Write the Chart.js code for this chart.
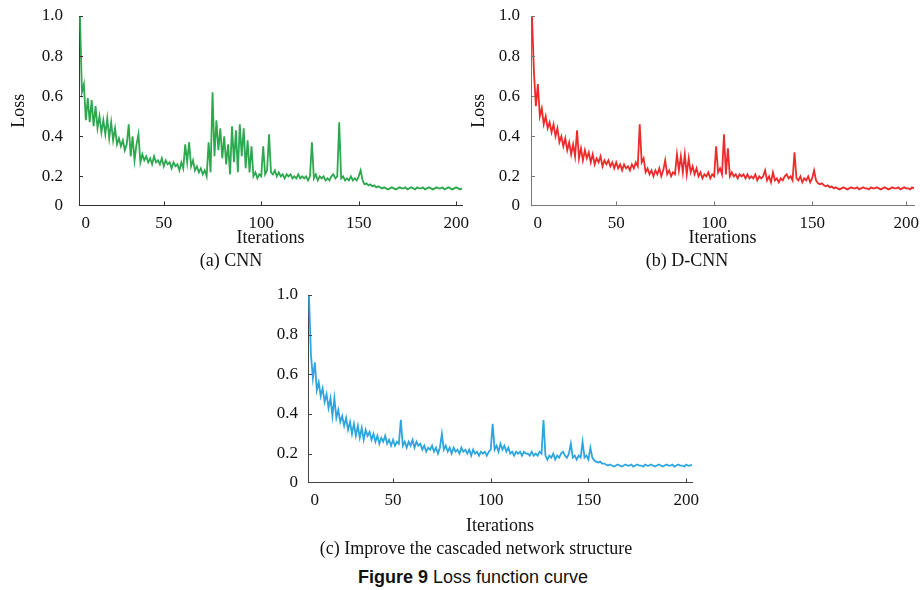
<!DOCTYPE html>
<html>
<head>
<meta charset="utf-8">
<script src="https://cdn.jsdelivr.net/npm/chart.js@4.4.1/dist/chart.umd.min.js"></script>
<style>
  html, body { margin: 0; padding: 0; background: #fff; overflow: hidden; }
  body { width: 920px; height: 590px; position: relative; }
  canvas { position: absolute; }
  #fig-caption {
    position: absolute; left: 473px; top: 567px; transform: translateX(-50%);
    white-space: nowrap; color: #111;
    font: 18px 'Liberation Sans Narrow', 'Arial Narrow', 'Liberation Sans', sans-serif;
  }
</style>
</head>
<body>
<canvas id="chartA" width="475" height="272" style="left:0;top:0"></canvas>
<canvas id="chartB" width="460" height="272" style="left:460px;top:0"></canvas>
<canvas id="chartC" width="460" height="281" style="left:260px;top:279px"></canvas>
<div id="fig-caption"><b>Figure 9</b> Loss function curve</div>

<script>
// one loss value per iteration, first value recorded at ITER_START
const ITER_START = 7;

const X_TICKS = [0, 50, 100, 150, 200];
const Y_TICKS = [0, 0.2, 0.4, 0.6, 0.8, 1.0];

// (a) CNN
const cnnLoss = [
  1.00, 0.62, 0.66, 0.48, 0.59, 0.47, 0.58, 0.45, 0.55, 0.44,
  0.50, 0.42, 0.48, 0.41, 0.49, 0.39, 0.47, 0.38, 0.44, 0.36,
  0.39, 0.35, 0.38, 0.33, 0.36, 0.46, 0.30, 0.40, 0.28, 0.36,
  0.41, 0.27, 0.31, 0.28, 0.30, 0.27, 0.29, 0.26, 0.30, 0.27,
  0.28, 0.26, 0.29, 0.25, 0.28, 0.26, 0.27, 0.24, 0.27, 0.25,
  0.26, 0.23, 0.27, 0.24, 0.36, 0.27, 0.37, 0.25, 0.28, 0.23,
  0.25, 0.22, 0.24, 0.21, 0.23, 0.20, 0.37, 0.22, 0.62, 0.30,
  0.48, 0.33, 0.44, 0.29, 0.40, 0.26, 0.36, 0.21, 0.45, 0.27,
  0.43, 0.22, 0.46, 0.30, 0.44, 0.24, 0.38, 0.22, 0.35, 0.20,
  0.22, 0.19, 0.21, 0.20, 0.35, 0.21, 0.23, 0.41, 0.22, 0.21,
  0.23, 0.20, 0.22, 0.20, 0.21, 0.19, 0.21, 0.20, 0.21, 0.19,
  0.20, 0.19, 0.21, 0.19, 0.20, 0.19, 0.20, 0.18, 0.20, 0.37,
  0.19, 0.21, 0.18, 0.20, 0.19, 0.20, 0.18, 0.19, 0.18, 0.20,
  0.21, 0.19, 0.20, 0.47, 0.19, 0.20, 0.18, 0.19, 0.18, 0.20,
  0.18, 0.19, 0.18, 0.20, 0.23, 0.18, 0.16, 0.165, 0.155, 0.16,
  0.15, 0.155, 0.145, 0.15, 0.145, 0.14, 0.145, 0.14, 0.135, 0.14,
  0.145, 0.14, 0.135, 0.14, 0.145, 0.14, 0.14, 0.145, 0.135, 0.14,
  0.145, 0.14, 0.135, 0.145, 0.14, 0.14, 0.145, 0.135, 0.14, 0.145,
  0.14, 0.135, 0.14, 0.145, 0.14, 0.14, 0.145, 0.135, 0.14, 0.145,
  0.14, 0.135, 0.14, 0.145, 0.14, 0.135, 0.14
];

// (b) D-CNN
const dcnnLoss = [
  1.00, 0.72, 0.55, 0.66, 0.50, 0.54, 0.46, 0.50, 0.44, 0.47,
  0.42, 0.46, 0.40, 0.44, 0.37, 0.40, 0.35, 0.39, 0.33, 0.37,
  0.31, 0.36, 0.30, 0.43, 0.29, 0.34, 0.28, 0.33, 0.29, 0.32,
  0.27, 0.31, 0.26, 0.29, 0.27, 0.30, 0.25, 0.28, 0.26, 0.28,
  0.25, 0.27, 0.24, 0.27, 0.24, 0.26, 0.23, 0.26, 0.24, 0.25,
  0.23, 0.26, 0.24, 0.27, 0.25, 0.46, 0.27, 0.29, 0.22, 0.24,
  0.21, 0.23, 0.20, 0.23, 0.21, 0.24, 0.20, 0.23, 0.28, 0.21,
  0.23, 0.20, 0.22, 0.21, 0.31, 0.23, 0.30, 0.22, 0.31, 0.21,
  0.29, 0.22, 0.25, 0.21, 0.24, 0.20, 0.22, 0.19, 0.21, 0.20,
  0.22, 0.19, 0.21, 0.20, 0.35, 0.22, 0.24, 0.21, 0.41, 0.21,
  0.34, 0.20, 0.22, 0.20, 0.21, 0.19, 0.21, 0.20, 0.21, 0.19,
  0.21, 0.19, 0.20, 0.19, 0.21, 0.18, 0.20, 0.19, 0.20, 0.23,
  0.18, 0.20, 0.17, 0.22, 0.18, 0.19, 0.17, 0.19, 0.18, 0.20,
  0.21, 0.19, 0.20, 0.18, 0.32, 0.19, 0.18, 0.20, 0.17, 0.19,
  0.18, 0.20, 0.17, 0.19, 0.23, 0.18, 0.165, 0.16, 0.165, 0.155,
  0.15, 0.155, 0.145, 0.15, 0.14, 0.145, 0.14, 0.135, 0.14, 0.145,
  0.14, 0.135, 0.14, 0.145, 0.14, 0.14, 0.145, 0.135, 0.14, 0.145,
  0.14, 0.14, 0.135, 0.145, 0.14, 0.14, 0.145, 0.14, 0.135, 0.14,
  0.145, 0.14, 0.135, 0.14, 0.145, 0.14, 0.14, 0.145, 0.135, 0.14,
  0.145, 0.14, 0.14, 0.135, 0.145, 0.14
];

// (c) improved cascaded network
const cascadeLoss = [
  1.00, 0.70, 0.58, 0.66, 0.52, 0.56, 0.49, 0.53, 0.46, 0.50,
  0.43, 0.48, 0.39, 0.48, 0.38, 0.42, 0.36, 0.39, 0.34, 0.38,
  0.32, 0.36, 0.30, 0.35, 0.29, 0.34, 0.28, 0.33, 0.27, 0.32,
  0.29, 0.31, 0.27, 0.30, 0.26, 0.29, 0.25, 0.28, 0.26, 0.29,
  0.25, 0.27, 0.24, 0.27, 0.24, 0.26, 0.25, 0.37, 0.24, 0.26,
  0.23, 0.26, 0.24, 0.27, 0.23, 0.26, 0.24, 0.25, 0.22, 0.24,
  0.21, 0.23, 0.22, 0.24, 0.21, 0.23, 0.20, 0.23, 0.30, 0.22,
  0.24, 0.21, 0.23, 0.20, 0.23, 0.21, 0.22, 0.20, 0.23, 0.21,
  0.22, 0.20, 0.22, 0.19, 0.22, 0.20, 0.21, 0.19, 0.21, 0.20,
  0.21, 0.19, 0.21, 0.22, 0.35, 0.22, 0.24, 0.21, 0.25, 0.22,
  0.24, 0.21, 0.23, 0.20, 0.21, 0.19, 0.21, 0.20, 0.21, 0.19,
  0.21, 0.20, 0.20, 0.19, 0.21, 0.19, 0.20, 0.19, 0.21, 0.20,
  0.37, 0.19, 0.17, 0.19, 0.18, 0.20, 0.17, 0.19, 0.18, 0.20,
  0.21, 0.19, 0.18, 0.20, 0.25, 0.18, 0.19, 0.17, 0.19, 0.18,
  0.26, 0.18, 0.19, 0.17, 0.23, 0.18, 0.165, 0.16, 0.155, 0.16,
  0.15, 0.15, 0.145, 0.14, 0.145, 0.14, 0.135, 0.14, 0.145, 0.14,
  0.135, 0.14, 0.145, 0.14, 0.14, 0.145, 0.135, 0.14, 0.145, 0.14,
  0.14, 0.135, 0.145, 0.14, 0.14, 0.145, 0.14, 0.135, 0.14, 0.145,
  0.14, 0.135, 0.14, 0.145, 0.14, 0.14, 0.145, 0.135, 0.14, 0.145,
  0.14, 0.14, 0.135, 0.145, 0.14, 0.14, 0.145
];

// axis starts a little above zero / after iteration 0, as in the figure
const Y_MIN = 0.055;
const Y_MAX = 1.0;
const X_MIN = 6.5;

const SERIF = "'Liberation Serif', 'Times New Roman', serif";
Chart.defaults.font.family = SERIF;
Chart.defaults.color = '#111';

// short tick marks pointing into the plot, like the original figure
const inwardTicks = {
  id: 'inwardTicks',
  afterDraw(chart, args, opts) {
    const { ctx, chartArea, scales: { x, y } } = chart;
    ctx.save();
    ctx.strokeStyle = opts.color;
    ctx.lineWidth = 1;
    ctx.beginPath();
    x.ticks.forEach((t, i) => {
      if (i === 0) return;
      const px = Math.round(x.getPixelForValue(t.value)) + 0.5;
      ctx.moveTo(px, chartArea.bottom);
      ctx.lineTo(px, chartArea.bottom - 4);
    });
    y.ticks.forEach((t, i) => {
      if (i === 0) return;
      const py = Math.round(y.getPixelForValue(t.value)) + 0.5;
      ctx.moveTo(chartArea.left, py);
      ctx.lineTo(chartArea.left + 4, py);
    });
    ctx.stroke();
    ctx.restore();
  }
};

function makeChart(canvasId, cfg) {
  const points = cfg.values.map((v, i) => ({ x: ITER_START + i, y: v }));
  return new Chart(document.getElementById(canvasId), {
    type: 'line',
    data: {
      datasets: [{
        data: points,
        borderColor: cfg.color,
        borderWidth: 1.8,
        pointRadius: 0,
        tension: 0,
        fill: false,
      }],
    },
    plugins: [inwardTicks],
    options: {
      responsive: false,
      animation: false,
      events: [],
      layout: { padding: { left: 0, top: 16, right: cfg.padRight, bottom: 0 } },
      plugins: {
        legend: { display: false },
        tooltip: { enabled: false },
        inwardTicks: { color: cfg.axisColor },
        title: {
          display: true,
          position: 'bottom',
          text: cfg.caption,
          color: '#111',
          font: { family: SERIF, size: 18, weight: 'normal' },
          padding: { top: 1, bottom: 0 },
        },
      },
      scales: {
        x: {
          type: 'linear',
          min: X_MIN,
          max: cfg.xMax,
          border: { display: true, color: cfg.axisColor, width: 1 },
          grid: { display: true, drawOnChartArea: false, drawTicks: false },
          ticks: {
            padding: 8,
            font: { size: 17 },
            color: '#111',
            maxRotation: 0,
            autoSkip: false,
            callback: (value, i) => String(X_TICKS[i]),
          },
          afterBuildTicks: scale => {
            // the "0" label sits a few px right of the axis corner in the figure
            scale.ticks = X_TICKS.map(v => ({ value: Math.min(Math.max(v, X_MIN + 3.5), cfg.xLast) }));
          },
          afterFit: scale => {
            scale.height = cfg.xHeight;
            scale.paddingLeft = 0;
            scale.paddingRight = 0;
          },
          title: {
            display: true,
            text: 'Iterations',
            color: '#111',
            font: { size: 18 },
            padding: 0,
          },
        },
        y: {
          min: Y_MIN,
          max: Y_MAX,
          border: { display: true, color: cfg.axisColor, width: 1 },
          grid: { display: true, drawOnChartArea: false, drawTicks: false },
          ticks: {
            padding: cfg.yPad,
            font: { size: 17 },
            color: '#111',
            autoSkip: false,
            callback: value => (value <= Y_MIN ? '0' : value.toFixed(1)),
          },
          afterBuildTicks: scale => {
            scale.ticks = Y_TICKS.map(v => ({ value: Math.max(v, Y_MIN) }));
          },
          afterFit: scale => {
            scale.width = cfg.yWidth;
            scale.paddingTop = 0;
            scale.paddingBottom = 0;
          },
          title: {
            display: cfg.yTitle,
            text: 'Loss',
            color: '#111',
            font: { size: 18 },
            padding: { top: 8, bottom: 0 },
          },
        },
      },
    },
  });
}

makeChart('chartA', {
  values: cnnLoss, color: '#2CA84E', axisColor: '#333',
  caption: '(a) CNN', yTitle: true, yWidth: 79, yPad: 16,
  xHeight: 44, xMax: 203, xLast: 200, padRight: 13,
});

makeChart('chartB', {
  values: dcnnLoss, color: '#EE2B2B', axisColor: '#777',
  caption: '(b) D-CNN', yTitle: true, yWidth: 71, yPad: 11,
  xHeight: 44, xMax: 202, xLast: 198, padRight: 6,
});

makeChart('chartC', {
  values: cascadeLoss, color: '#2DA5DF', axisColor: '#444',
  caption: '(c) Improve the cascaded network structure', yTitle: false, yWidth: 48, yPad: 10,
  xHeight: 55, xMax: 203, xLast: 200, padRight: 28,
});
</script>
</body>
</html>
